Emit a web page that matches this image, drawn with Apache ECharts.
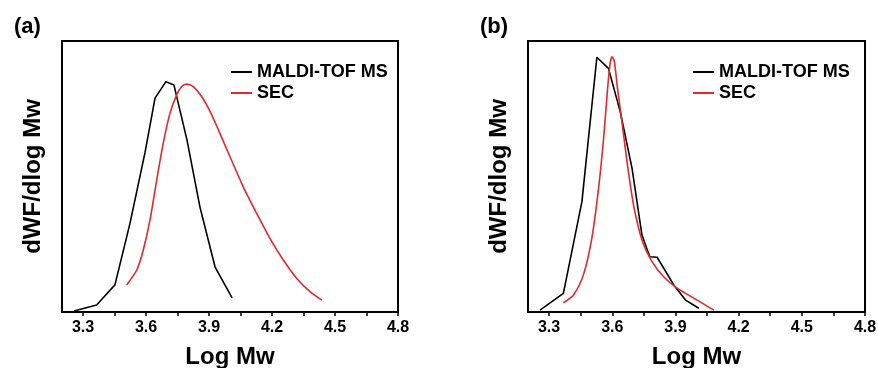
<!DOCTYPE html>
<html><head><meta charset="utf-8">
<script src="https://cdn.jsdelivr.net/npm/echarts@6/dist/echarts.min.js"></script>
<style>html,body{margin:0;padding:0;background:#fff}#c{width:878px;height:368px}</style>
</head><body><div id="c"></div>
<script>
// Panel (a)
const maldiA = [[3.257,0.004],[3.365,0.026],[3.452,0.10],[3.524,0.328],[3.595,0.587],[3.643,0.789],[3.695,0.85],[3.733,0.838],[3.795,0.635],[3.857,0.387],[3.929,0.166],[4.01,0.052]];
const secA = [[3.508,0.100],[3.556,0.155],[3.587,0.229],[3.619,0.339],[3.651,0.487],[3.682,0.622],[3.714,0.733],[3.746,0.801],[3.770,0.832],[3.794,0.841],[3.825,0.832],[3.865,0.795],[3.905,0.740],[3.952,0.659],[4.0,0.573],[4.063,0.462],[4.127,0.364],[4.190,0.272],[4.254,0.192],[4.318,0.124],[4.381,0.075],[4.437,0.044]];
// Panel (b)
const maldiB = [[3.257,0.007],[3.368,0.069],[3.456,0.407],[3.527,0.94],[3.582,0.899],[3.638,0.739],[3.694,0.53],[3.741,0.284],[3.778,0.204],[3.813,0.202],[3.892,0.1],[3.948,0.044],[4.011,0.014]];
const secB = [[3.368,0.034],[3.416,0.063],[3.463,0.137],[3.503,0.272],[3.535,0.456],[3.559,0.641],[3.578,0.825],[3.590,0.918],[3.599,0.942],[3.61,0.924],[3.625,0.825],[3.646,0.702],[3.670,0.555],[3.701,0.395],[3.741,0.266],[3.789,0.186],[3.844,0.130],[3.908,0.088],[3.987,0.051],[4.082,0.007]];
const xTicks = ['3.3','3.6','3.9','4.2','4.5','4.8'];
const minorTicks = [3.45,3.75,4.05,4.35,4.65];
const names = ['MALDI-TOF MS','SEC'];

const FONT = 'Liberation Sans, Arial, sans-serif';
const majorVals = xTicks.map(Number);
const chart = echarts.init(document.getElementById('c'));
function xAx(i){
  return {type:'value', gridIndex:i, min:3.2, max:4.8, interval:0.3,
    axisLine:{show:true,lineStyle:{color:'#000',width:2}},
    axisTick:{show:true,length:4,lineStyle:{color:'#000',width:1.5},
      customValues:majorVals.concat(minorTicks)},
    splitLine:{show:false},
    axisLabel:{fontFamily:FONT,fontWeight:'bold',fontSize:16,color:'#000',margin:8,
      customValues:majorVals,
      formatter:v=>xTicks.find(t=>Math.abs(parseFloat(t)-v)<1e-6)||''},
    name:'Log Mw', nameLocation:'middle', nameGap:33,
    nameTextStyle:{fontFamily:FONT,fontWeight:'bold',fontSize:24,color:'#000'}};
}
function yAx(i){
  return {type:'value', gridIndex:i, min:0, max:1,
    axisLine:{show:true,lineStyle:{color:'#000',width:2}},
    axisTick:{show:false}, axisLabel:{show:false}, splitLine:{show:false},
    name:'dWF/dlog Mw', nameLocation:'middle', nameGap:17,
    nameTextStyle:{fontFamily:FONT,fontWeight:'bold',fontSize:24,color:'#000'}};
}
function ser(name,data,i,color,smooth){
  return {name, type:'line', xAxisIndex:i, yAxisIndex:i, data, showSymbol:false,
    smooth: smooth?0.25:false, lineStyle:{color,width:1.6}, itemStyle:{color}, animation:false};
}
function leg(left){
  return {data:names, orient:'vertical', left, top:58, itemWidth:21, itemHeight:2, icon:'rect',
    itemGap:3, textStyle:{fontFamily:FONT,fontWeight:'bold',fontSize:18,color:'#000'},
    selectedMode:false};
}
chart.setOption({
  animation:false,
  grid:[
    {left:62,right:480,top:41,bottom:56,show:true,borderColor:'#000',borderWidth:2,containLabel:false,outerBoundsMode:'none'},
    {left:528,right:13,top:41,bottom:56,show:true,borderColor:'#000',borderWidth:2,containLabel:false,outerBoundsMode:'none'}
  ],
  xAxis:[xAx(0),xAx(1)],
  yAxis:[yAx(0),yAx(1)],
  legend:[leg(226),leg(688)],
  title:[
    {text:'(a)',left:9,top:11,textStyle:{fontFamily:FONT,fontWeight:'bold',fontSize:22,color:'#000'}},
    {text:'(b)',left:475,top:11,textStyle:{fontFamily:FONT,fontWeight:'bold',fontSize:22,color:'#000'}}
  ],
  series:[
    ser(names[0],maldiA,0,'#000',false),
    ser(names[1],secA,0,'#e8262e',true),
    ser(names[0],maldiB,1,'#000',false),
    ser(names[1],secB,1,'#e8262e',true)
  ]
});
</script></body></html>
